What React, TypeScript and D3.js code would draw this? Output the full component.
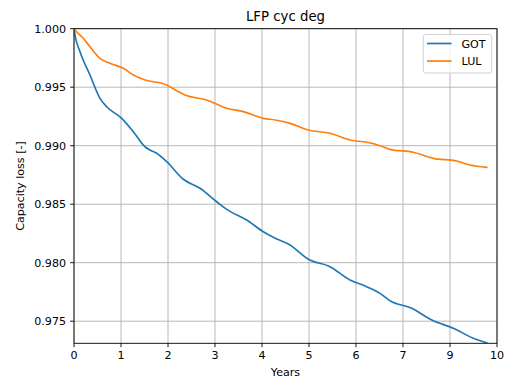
import React from "react";
import * as d3 from "d3";

// Tick positions (evenly spaced) and their labels as shown in the reference
const xTickPositions = [0, 1, 2, 3, 4, 5, 6, 7, 8, 9];
const xTickLabels = ["0", "1", "2", "3", "4", "5", "6", "7", "9", "10"];
const yTicks = [0.975, 0.98, 0.985, 0.99, 0.995, 1.0];

// x is expressed in tick-position units
const gotX = [0, 0.021, 0.128, 0.34, 0.553, 0.696, 1.015, 1.262, 1.511, 1.617, 1.76, 1.972, 2.326, 2.681, 3.036, 3.249, 3.674, 4.028, 4.241, 4.596, 4.985, 5.447, 5.872, 6.228, 6.511, 6.723, 7.185, 7.611, 8.07, 8.496, 8.781];
const gotY = [1.0, 0.99946, 0.99803, 0.99604, 0.99405, 0.99333, 0.99234, 0.9912, 0.98991, 0.98963, 0.98935, 0.98863, 0.98713, 0.98636, 0.98521, 0.98456, 0.98365, 0.98265, 0.98217, 0.98151, 0.98029, 0.97966, 0.97852, 0.97795, 0.97738, 0.97675, 0.9761, 0.9751, 0.97439, 0.97354, 0.97316];

const lulX = [0, 0.021, 0.198, 0.34, 0.553, 0.766, 1.049, 1.262, 1.511, 1.972, 2.219, 2.362, 2.823, 3.249, 3.602, 4.028, 4.277, 4.596, 4.985, 5.447, 5.872, 6.228, 6.511, 6.723, 7.219, 7.645, 8.143, 8.426, 8.781];
const lulY = [1.0, 0.99989, 0.99918, 0.99846, 0.99747, 0.99704, 0.99662, 0.99604, 0.99562, 0.99519, 0.99462, 0.99433, 0.99391, 0.9932, 0.99291, 0.99234, 0.9922, 0.99191, 0.99134, 0.99106, 0.99049, 0.99029, 0.99, 0.98969, 0.98944, 0.98892, 0.98869, 0.98835, 0.98815];

const seriesNames = ["GOT", "LUL"];
const colors = ["#1f77b4", "#ff7f0e"];

export default function App() {
  const W = 507, H = 380;
  const L = 74, R = 497, T = 28.7, B = 343.3;
  const x = d3.scaleLinear().domain([0, 9]).range([L, R]);
  const y = d3.scaleLinear().domain([0.97311, 1.0]).range([B, T]);
  const line = d3
    .line<[number, number]>()
    .x((d) => x(d[0]))
    .y((d) => y(d[1]))
    .curve(d3.curveMonotoneX);

  const series = [
    gotX.map((v, i) => [v, gotY[i]] as [number, number]),
    lulX.map((v, i) => [v, lulY[i]] as [number, number]),
  ];
  const font = "'DejaVu Sans', sans-serif";
  const fs = 11.1;

  return (
    <svg
      width={W}
      height={H}
      style={{ position: "absolute", left: 0, top: 0, background: "#fff" }}
      fontFamily={font}
    >
      <rect x={0} y={0} width={W} height={H} fill="#fff" />
      <defs>
        <clipPath id="plotclip">
          <rect x={L} y={T} width={R - L} height={B - T} />
        </clipPath>
      </defs>
      {/* grid */}
      {xTickPositions.map((t) => (
        <line key={"gx" + t} x1={x(t)} x2={x(t)} y1={T} y2={B} stroke="#b0b0b0" strokeWidth={0.9} />
      ))}
      {yTicks.map((t) => (
        <line key={"gy" + t} x1={L} x2={R} y1={y(t)} y2={y(t)} stroke="#b0b0b0" strokeWidth={0.9} />
      ))}
      {/* lines */}
      <g clipPath="url(#plotclip)">
        {series.map((s, i) => (
          <path key={i} d={line(s) || ""} fill="none" stroke={colors[i]} strokeWidth={1.67} strokeLinecap="square" />
        ))}
      </g>
      {/* spines */}
      <rect x={L} y={T} width={R - L} height={B - T} fill="none" stroke="#000" strokeWidth={0.9} />
      {/* x ticks */}
      {xTickPositions.map((t, i) => (
        <g key={"xt" + t}>
          <line x1={x(t)} x2={x(t)} y1={B} y2={B + 3.9} stroke="#000" strokeWidth={0.9} />
          <text x={x(t)} y={B + 15.5} textAnchor="middle" fontSize={fs} fill="#000">
            {xTickLabels[i]}
          </text>
        </g>
      ))}
      {/* y ticks */}
      {yTicks.map((t) => (
        <g key={"yt" + t}>
          <line x1={L - 3.9} x2={L} y1={y(t)} y2={y(t)} stroke="#000" strokeWidth={0.9} />
          <text x={L - 8} y={y(t) + 4} textAnchor="end" fontSize={fs} fill="#000">
            {d3.format(".3f")(t)}
          </text>
        </g>
      ))}
      {/* labels */}
      <text x={(L + R) / 2} y={376} textAnchor="middle" fontSize={fs} fill="#000">
        Years
      </text>
      <text
        transform={`translate(24,${(T + B) / 2}) rotate(-90)`}
        textAnchor="middle"
        fontSize={fs}
        fill="#000"
      >
        Capacity loss [-]
      </text>
      <text x={(L + R) / 2} y={21} textAnchor="middle" fontSize={13.3} fill="#000">
        LFP cyc deg
      </text>
      {/* legend */}
      <g>
        <rect x={423.3} y={34.5} width={68.5} height={38.5} rx={2.5} fill="#fff" fillOpacity={0.8} stroke="#cccccc" strokeWidth={0.9} />
        {seriesNames.map((n, i) => (
          <g key={n}>
            <line x1={427} x2={451.5} y1={43.5 + i * 17.5} y2={43.5 + i * 17.5} stroke={colors[i]} strokeWidth={1.67} />
            <text x={461.5} y={47.5 + i * 17.5} fontSize={fs} fill="#000">
              {n}
            </text>
          </g>
        ))}
      </g>
    </svg>
  );
}
